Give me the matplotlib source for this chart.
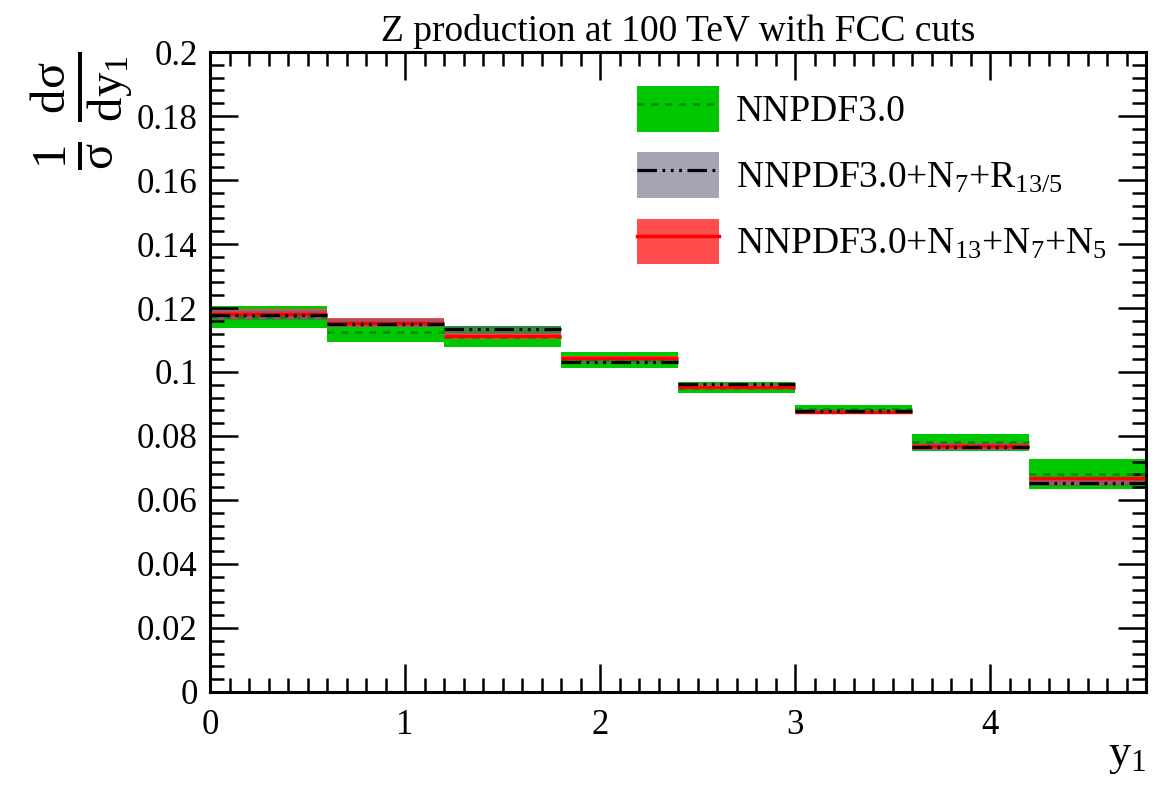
import numpy as np
import matplotlib
matplotlib.use("Agg")
from matplotlib import pyplot as plt
from matplotlib.patches import Patch
from matplotlib.lines import Line2D
from matplotlib.ticker import MultipleLocator, FuncFormatter

plt.rcParams["font.family"] = ["Liberation Serif", "DejaVu Serif"]
plt.rcParams["mathtext.fontset"] = "custom"
plt.rcParams["mathtext.rm"] = "Liberation Serif"
plt.rcParams["mathtext.it"] = "Liberation Serif:italic"
plt.rcParams["lines.scale_dashes"] = False

# rapidity bins
bin_edges = [0.0, 0.6, 1.2, 1.8, 2.4, 3.0, 3.6, 4.2, 4.8]

# NNPDF3.0
nnpdf_central = [0.1172, 0.1126, 0.1110, 0.1038, 0.0950, 0.0883, 0.0782, 0.0681]
nnpdf_lo = [0.1137, 0.1095, 0.1077, 0.1013, 0.0933, 0.0869, 0.0754, 0.0635]
nnpdf_hi = [0.1206, 0.1168, 0.1143, 0.1062, 0.0968, 0.0897, 0.0806, 0.0727]

# NNPDF3.0+N7+R13/5
r135_central = [0.1178, 0.1150, 0.1134, 0.1030, 0.0962, 0.0878, 0.0767, 0.0654]
r135_lo = [0.1163, 0.1140, 0.1120, 0.1025, 0.0958, 0.0872, 0.0757, 0.0645]
r135_hi = [0.1195, 0.1165, 0.1145, 0.1036, 0.0967, 0.0883, 0.0777, 0.0665]

# NNPDF3.0+N13+N7+N5
n1375_central = [0.1180, 0.1152, 0.1113, 0.1045, 0.0954, 0.0876, 0.0770, 0.0669]
n1375_lo = [0.1165, 0.1140, 0.1104, 0.1040, 0.0950, 0.0869, 0.0756, 0.0648]
n1375_hi = [0.1197, 0.1168, 0.1122, 0.1049, 0.0958, 0.0881, 0.0778, 0.0672]

labels = ["NNPDF3.0",
          r"NNPDF3.0+N$_{7}$+R$_{13/5}$",
          r"NNPDF3.0+N$_{13}$+N$_{7}$+N$_{5}$"]

green = "#00c800"
green_line = "#008a00"
grey = (0.35, 0.35, 0.47, 0.55)
red = "#ff4d4d"
dash_dot3 = (0, (14, 4, 2, 4, 2, 4, 2, 4))
dashed = (0, (5, 5))

edges = np.array(bin_edges)
left = edges[:-1]
right = edges[1:]
width = np.diff(edges)

fig = plt.figure(figsize=(11.7, 7.93), dpi=100)
ax = fig.add_axes([0.1795, 0.1274, 0.8, 0.807])


def band(lo, hi, color):
    lo = np.array(lo)
    hi = np.array(hi)
    ax.bar(left, hi - lo, width=width, bottom=lo, align="edge",
           color=color, linewidth=0)


# each set drawn band then central line, the grey band is translucent on top
band(nnpdf_lo, nnpdf_hi, green)
ax.hlines(nnpdf_central, left, right, colors=green_line, linestyles=dashed, linewidth=1.8)
band(n1375_lo, n1375_hi, red)
ax.hlines(n1375_central, left, right, colors="red", linewidth=2.5)
band(r135_lo, r135_hi, grey)
ax.hlines(r135_central, left, right, colors="black", linestyles=dash_dot3, linewidth=2.3)

ax.set_xlim(0, 4.8)
ax.set_ylim(0, 0.2)

ax.xaxis.set_major_locator(MultipleLocator(1))
ax.xaxis.set_minor_locator(MultipleLocator(0.1))
ax.yaxis.set_major_locator(MultipleLocator(0.02))
ax.yaxis.set_minor_locator(MultipleLocator(0.004))
ax.yaxis.set_major_formatter(FuncFormatter(lambda v, p: "%g" % round(v, 3)))
ax.tick_params(which="both", direction="in", top=True, right=True, width=1.8,
               labelsize=25)
ax.tick_params(which="major", length=20)
ax.tick_params(which="minor", length=10)
ax.tick_params(axis="x", pad=12)
ax.tick_params(axis="y", pad=9)
for s in ax.spines.values():
    s.set_linewidth(2.2)

ax.set_title("Z production at 100 TeV with FCC cuts", fontsize=27, pad=8)
ax.set_xlabel(r"y$_{1}$", fontsize=32, loc="right", labelpad=-4)
ax.set_ylabel(r"$\mathrm{\frac{1}{\sigma}\;\frac{d\sigma}{dy_{1}}}$", fontsize=50,
              loc="top", labelpad=2)

handles = [
    (Patch(facecolor=green, linewidth=0), Line2D([], [], color=green_line, linestyle=dashed, linewidth=1.8)),
    (Patch(facecolor=grey, linewidth=0), Line2D([], [], color="black", linestyle=dash_dot3, linewidth=2.3)),
    (Patch(facecolor=red, linewidth=0), Line2D([], [], color="red", linewidth=2.5)),
]
ax.legend(handles, labels, loc="upper left", bbox_to_anchor=(0.456, 0.947),
          frameon=False, fontsize=27, handlelength=2.2, handleheight=1.5,
          labelspacing=0.55, handletextpad=0.45, borderpad=0, borderaxespad=0)

fig.savefig("out.png", dpi=100)
